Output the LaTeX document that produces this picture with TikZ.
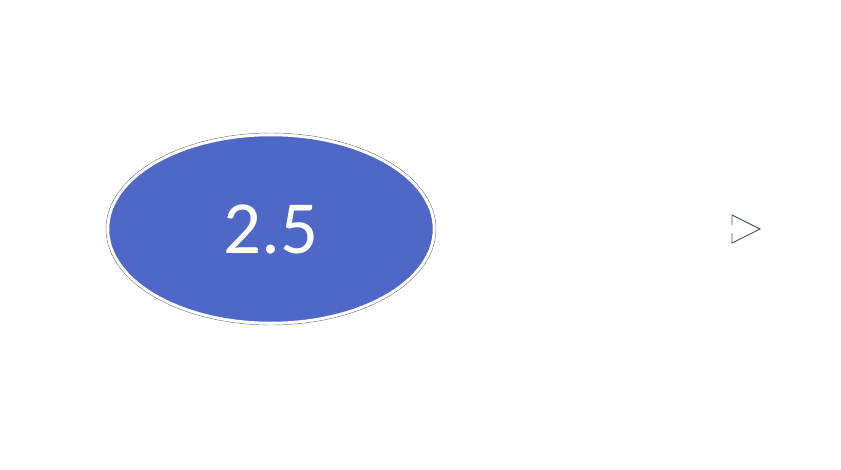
\documentclass[tikz,border=0pt]{standalone}
\usepackage{fontspec}
\setmainfont{Carlito}
\usetikzlibrary{shapes.geometric}
\definecolor{nodeblue}{RGB}{79,104,200}
\definecolor{slate}{RGB}{68,84,106}
\tikzset{
  bubble/.style={ellipse, fill=nodeblue, draw=white, line width=2.5pt,
    minimum width=326pt, minimum height=188pt, inner sep=0pt,
    text=white, font=\fontsize{75}{80}\selectfont},
  rim/.style={ellipse, draw=slate!80, line width=0.45pt, fill=none,
    minimum width=330pt, minimum height=192pt, inner sep=0pt},
  tip/.style={draw=slate, line width=0.9pt}
}
\begin{document}
\begin{tikzpicture}[x=1pt,y=-1pt]
\useasboundingbox (0,0) rectangle (841,469);
\node[rim] (rim) at (271,229) {};
\node[bubble] (b) at (271,229) {2.5};
\coordinate (t1) at (732,215);
\coordinate (t2) at (760,229);
\coordinate (t3) at (732,243);
\coordinate (g1) at (732,225);
\coordinate (g2) at (732,233);
\draw[tip] (g1) -- (t1) -- (t2) -- (t3) -- (g2);
\end{tikzpicture}
\end{document}
